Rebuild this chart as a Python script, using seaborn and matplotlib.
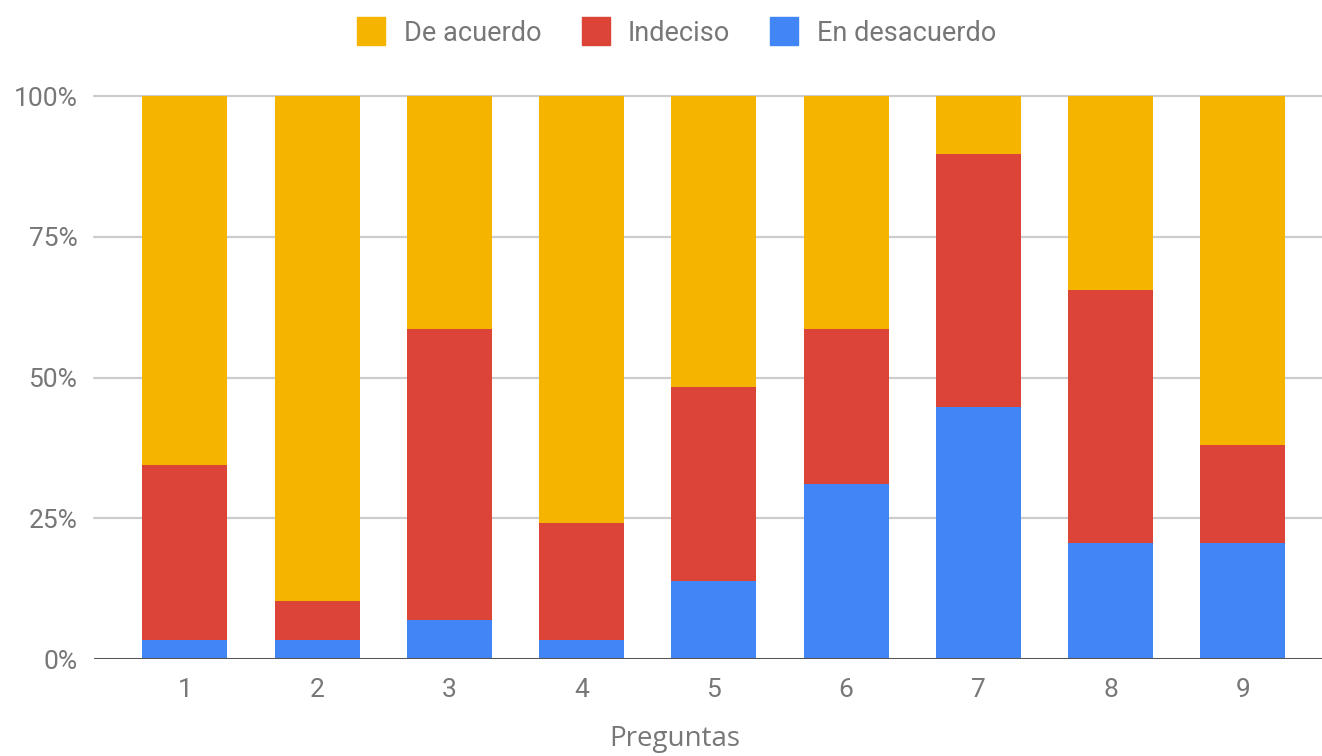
import numpy as np
import pandas as pd
import seaborn as sns
import matplotlib.pyplot as plt
from matplotlib.lines import Line2D

# answers per question (29 respondents each)
preguntas = ['1', '2', '3', '4', '5', '6', '7', '8', '9']
desacuerdo = [1, 1, 2, 1, 4, 9, 13, 6, 6]
indeciso = [9, 2, 15, 6, 10, 8, 13, 13, 5]
de_acuerdo = [19, 26, 12, 22, 15, 12, 3, 10, 18]

series = ['De acuerdo', 'Indeciso', 'En desacuerdo']
colors = {'De acuerdo': '#F4B400', 'Indeciso': '#DB4437', 'En desacuerdo': '#4285F4'}

df = pd.DataFrame({'Pregunta': preguntas, 'En desacuerdo': desacuerdo,
                   'Indeciso': indeciso, 'De acuerdo': de_acuerdo})
total = df[series].sum(axis=1)
# cumulative shares so the bars can be overdrawn as a stack
df['top_acuerdo'] = (df['En desacuerdo'] + df['Indeciso'] + df['De acuerdo']) / total
df['top_indeciso'] = (df['En desacuerdo'] + df['Indeciso']) / total
df['top_desacuerdo'] = df['En desacuerdo'] / total

sns.set_style('white')
plt.rcParams['font.family'] = ['Roboto', 'DejaVu Sans']

fig = plt.figure(figsize=(13.22, 7.56), dpi=100)
ax = fig.add_axes([0.0711, 0.1283, 0.9289, 0.7447])

w = 0.643
for col, name in [('top_acuerdo', 'De acuerdo'), ('top_indeciso', 'Indeciso'),
                  ('top_desacuerdo', 'En desacuerdo')]:
    sns.barplot(data=df, x='Pregunta', y=col, color=colors[name], width=w,
                saturation=1, linewidth=0, ax=ax, zorder=3)

ax.set_ylim(0, 1)
ax.set_xlim(-0.688, 8.6)
ax.set_yticks([0, 0.25, 0.5, 0.75, 1.0])
ax.set_yticklabels(['0%', '25%', '50%', '75%', '100%'])
for y in [0.25, 0.5, 0.75, 1.0]:
    ax.axhline(y, color='#cccccc', lw=1.6, zorder=1, clip_on=False)
ax.axhline(0, color='#555555', lw=2.2, zorder=4)

for s in ax.spines.values():
    s.set_visible(False)
ax.tick_params(axis='both', length=0, labelsize=19, labelcolor='#777777')
ax.tick_params(axis='y', pad=12)
ax.tick_params(axis='x', pad=14)
ax.set_ylabel('')
ax.set_xlabel('Preguntas', fontsize=20, color='#777777',
              family=['Open Sans', 'DejaVu Sans'])
ax.xaxis.set_label_coords(0.473, -0.117)

handles = [Line2D([], [], marker='s', linestyle='none', markersize=20,
                  markerfacecolor=colors[s], markeredgecolor=colors[s]) for s in series]
fig.legend(handles, series, loc='center', bbox_to_anchor=(0.507, 0.956), ncol=3,
           frameon=False, fontsize=19.5, labelcolor='#777777', handletextpad=0.2,
           columnspacing=1.0)

fig.savefig('out.png', dpi=100)
